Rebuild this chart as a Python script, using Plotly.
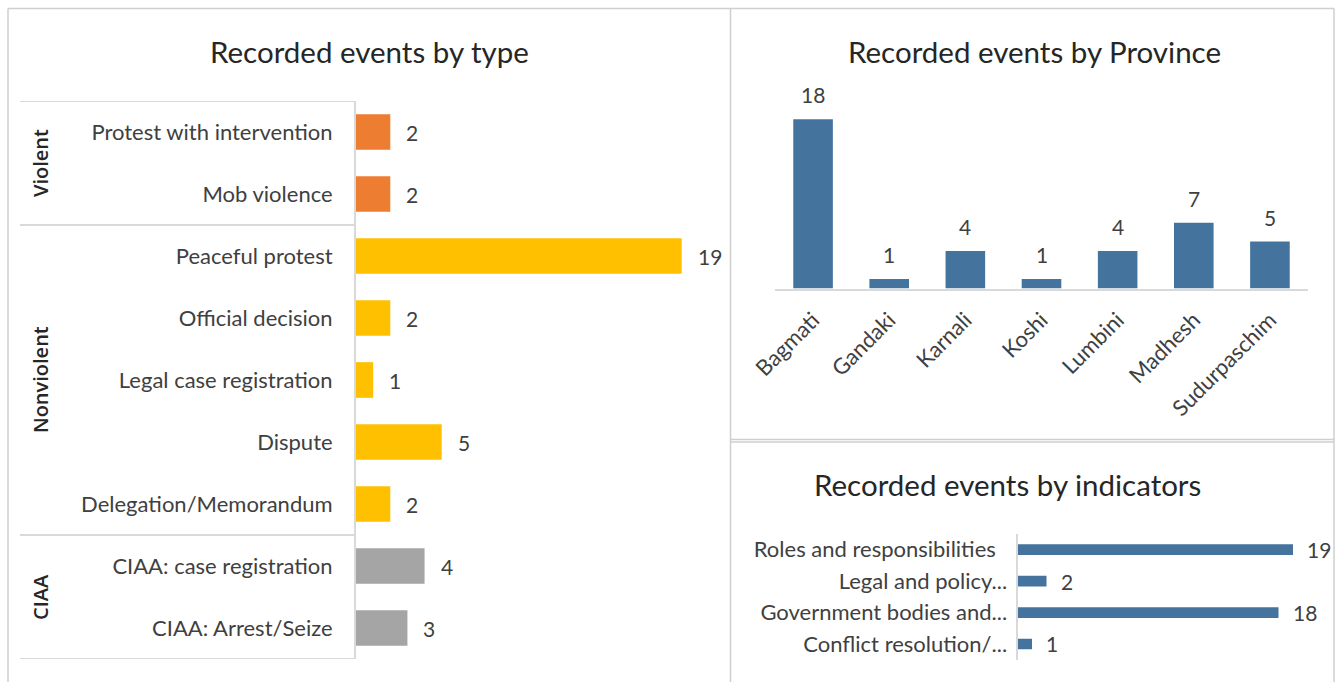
import plotly.graph_objects as go

W, H = 1337, 682

# ---------------- data ----------------
type_labels = ["Protest with intervention", "Mob violence", "Peaceful protest",
               "Official decision", "Legal case registration", "Dispute",
               "Delegation/Memorandum", "CIAA: case registration", "CIAA: Arrest/Seize"]
type_values = [2, 2, 19, 2, 1, 5, 2, 4, 3]
type_groups = ["Violent", "Violent", "Nonviolent", "Nonviolent", "Nonviolent",
               "Nonviolent", "Nonviolent", "CIAA", "CIAA"]
group_colors = {"Violent": "#ED7D31", "Nonviolent": "#FFC000", "CIAA": "#A5A5A5"}

provinces = ["Bagmati", "Gandaki", "Karnali", "Koshi", "Lumbini", "Madhesh", "Sudurpaschim"]
province_values = [18, 1, 4, 1, 4, 7, 5]

indicators = ["Roles and responsibilities\u00a0\u00a0", "Legal and policy...",
              "Government bodies and...", "Conflict resolution/..."]
indicator_values = [19, 2, 18, 1]

BLUE = "#44739E"
TXT = "#404040"
AXIS = "#D9D9D9"
BORDER = "#CFCFCF"
FONT = "Lato, Calibri, Carlito, sans-serif"


def px(x):
    return x / W


def py(y):
    return 1 - y / H


fig = go.Figure()

# ---------- left: events by type ----------
ypos = list(range(len(type_labels)))
fig.add_trace(go.Bar(
    x=type_values, y=ypos, orientation="h",
    marker=dict(color=[group_colors[g] for g in type_groups], line=dict(width=0)),
    width=0.575, xaxis="x", yaxis="y", showlegend=False, hoverinfo="skip"))

for v, yv in zip(type_values, ypos):
    fig.add_annotation(x=v, y=yv, xref="x", yref="y", text=str(v), showarrow=False,
                       xanchor="left", yanchor="middle", xshift=14,
                       font=dict(size=21, color=TXT, family=FONT))

# group box lines
bounds = [-0.5]
for i in range(1, len(type_groups)):
    if type_groups[i] != type_groups[i - 1]:
        bounds.append(i - 0.5)
bounds.append(len(type_groups) - 0.5)
for b in bounds:
    fig.add_shape(type="line", xref="paper", yref="y", x0=px(20), x1=px(356),
                  y0=b, y1=b, line=dict(color=AXIS, width=2))

# group labels
groups_order = []
for g in type_groups:
    if g not in groups_order:
        groups_order.append(g)
for g in groups_order:
    idx = [i for i, gg in enumerate(type_groups) if gg == g]
    fig.add_annotation(x=px(40), y=sum(idx) / len(idx), xref="paper", yref="y", text=g,
                       textangle=-90, showarrow=False, xanchor="center", yanchor="middle",
                       font=dict(size=20, color="#262626", family="Open Sans, sans-serif",
                                 weight=600))

# ---------- right top: events by province ----------
fig.add_trace(go.Bar(
    x=provinces, y=province_values, marker=dict(color=BLUE, line=dict(width=0)),
    width=0.52, xaxis="x2", yaxis="y2", showlegend=False, hoverinfo="skip"))
for p, v in zip(provinces, province_values):
    fig.add_annotation(x=p, y=v, xref="x2", yref="y2", text=str(v), showarrow=False,
                       xanchor="center", yanchor="bottom", yshift=10,
                       font=dict(size=21, color=TXT, family=FONT))

# ---------- right bottom: events by indicators ----------
ipos = list(range(len(indicators)))
fig.add_trace(go.Bar(
    x=indicator_values, y=ipos, orientation="h", marker=dict(color=BLUE, line=dict(width=0)),
    width=0.34, xaxis="x3", yaxis="y3", showlegend=False, hoverinfo="skip"))
for v, yv in zip(indicator_values, ipos):
    fig.add_annotation(x=v, y=yv, xref="x3", yref="y3", text=str(v), showarrow=False,
                       xanchor="left", yanchor="middle", xshift=12,
                       font=dict(size=21, color=TXT, family=FONT))

# ---------- titles ----------
for txt, cx, cy in [("Recorded events by type", 369, 51),
                    ("Recorded events by Province", 1034, 51),
                    ("Recorded events by indicators", 1007, 484)]:
    fig.add_annotation(x=px(cx), y=py(cy), xref="paper", yref="paper", text=txt,
                       showarrow=False, xanchor="center", yanchor="middle",
                       font=dict(size=29.5, color="#262626", family=FONT))

# ---------- panel borders ----------
border = dict(color=BORDER, width=1.5)
for x0, y0, x1, y1 in [(8, 8.5, 1334, 8.5), (8, 8.5, 8, 682), (730.5, 8.5, 730.5, 682),
                       (1334, 8.5, 1334, 682), (731, 439.5, 1334, 439.5),
                       (731, 442, 1334, 442)]:
    fig.add_shape(type="line", xref="paper", yref="paper", x0=px(x0), x1=px(x1),
                  y0=py(y0), y1=py(y1), line=border)

fig.update_layout(
    width=W, height=H, margin=dict(l=0, r=0, t=0, b=0, autoexpand=False),
    paper_bgcolor="white", plot_bgcolor="rgba(0,0,0,0)",
    font=dict(family=FONT, color=TXT),
    xaxis=dict(domain=[px(356), px(716)], range=[0, 21], visible=False, automargin=False),
    yaxis=dict(domain=[py(659), py(101)], range=[len(type_labels) - 0.5, -0.5],
               tickvals=ypos, ticktext=type_labels, showgrid=False, zeroline=False,
               showline=True, linecolor=AXIS, linewidth=2, ticks="", automargin=False,
               ticklabelstandoff=17, tickfont=dict(size=22, color=TXT, family=FONT)),
    xaxis2=dict(domain=[px(775), px(1308)], anchor="y2", showgrid=False, automargin=False,
                showline=True, linecolor=AXIS, linewidth=2, ticks="", tickangle=-45,
                ticklabelstandoff=8, tickfont=dict(size=22, color=TXT, family=FONT)),
    yaxis2=dict(domain=[py(288.5), py(100.5)], range=[0, 20], anchor="x2", visible=False,
                automargin=False),
    xaxis3=dict(domain=[px(1017.5), px(1322)], range=[0, 21], anchor="y3", visible=False,
                automargin=False),
    yaxis3=dict(domain=[py(659.7), py(534)], range=[len(indicators) - 0.5, -0.5], anchor="x3",
                tickvals=ipos, ticktext=indicators, showgrid=False, zeroline=False,
                showline=True, linecolor=AXIS, linewidth=2, ticks="", automargin=False,
                ticklabelstandoff=4, tickfont=dict(size=22, color=TXT, family=FONT)),
)

fig.write_html("out.html")
